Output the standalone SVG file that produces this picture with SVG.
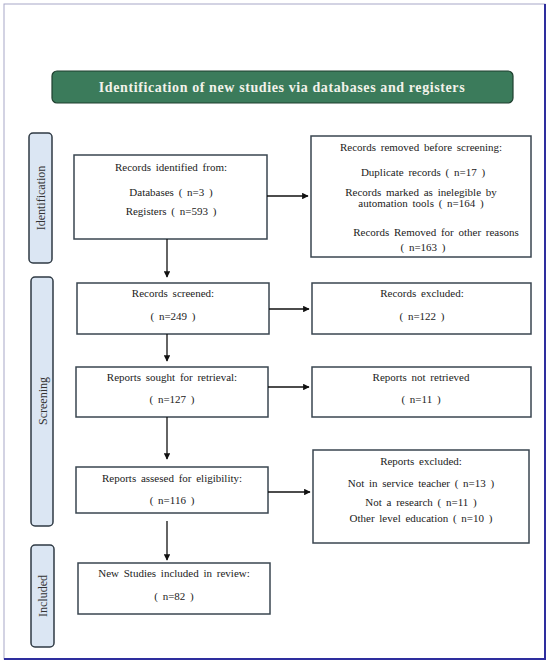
<svg xmlns="http://www.w3.org/2000/svg" width="550" height="663" viewBox="0 0 550 663">
<defs>
<style>
.frame{fill:#ffffff;stroke:#a8a8c8;stroke-width:1}
.edge{stroke:#2e2e9e;stroke-width:2;fill:none}
.banner{fill:#3b7b5b;stroke:#1f3f2f;stroke-width:1.2}
.btitle{font-family:"Liberation Serif","DejaVu Serif",serif;font-weight:bold;font-size:14px;fill:#f2f2ea;text-anchor:middle;letter-spacing:0.6px}
.side{fill:#dbe6f3;stroke:#2f3a44;stroke-width:1.5}
.stext{font-family:"Liberation Serif","DejaVu Serif",serif;font-size:12px;fill:#333;text-anchor:middle}
.box{fill:#ffffff;stroke:#3a4650;stroke-width:1.5}
.t{font-family:"Liberation Serif","DejaVu Serif",serif;font-size:11px;fill:#222;text-anchor:middle;word-spacing:2px}
.conn{stroke:#111;stroke-width:1.3;fill:none;marker-end:url(#ah)}
</style>
<marker id="ah" viewBox="0 0 10 10" refX="9" refY="5" markerWidth="5" markerHeight="5" orient="auto">
<path d="M0,0 L10,5 L0,10 z" fill="#111"/>
</marker>
</defs>
<rect class="frame" x="4" y="4" width="541" height="655"/>
<path class="edge" d="M545,4 L545,659 L4,659"/>
<g id="title">
<rect class="banner" x="52" y="71" width="461" height="32" rx="5"/>
<text class="btitle" x="282" y="91.5">Identification of new studies via databases and registers</text>
</g>
<g id="phase-identification">
<rect class="side" x="29" y="133" width="23" height="130" rx="4"/>
<text class="stext" transform="translate(44.5,198) rotate(-90)">Identification</text>
</g>
<g id="phase-screening">
<rect class="side" x="31" y="277" width="22" height="249" rx="4"/>
<text class="stext" transform="translate(46.5,401) rotate(-90)">Screening</text>
</g>
<g id="phase-included">
<rect class="side" x="31" y="545" width="23" height="102" rx="4"/>
<text class="stext" transform="translate(47,596) rotate(-90)">Included</text>
</g>
<g id="identified">
<rect class="box" x="74" y="155" width="193" height="84"/>
<text class="t" x="171" y="171">Records identified from:</text>
<text class="t" x="171" y="196">Databases ( n=3 )</text>
<text class="t" x="171" y="215">Registers ( n=593 )</text>
</g>
<g id="removed">
<rect class="box" x="311" y="136" width="220" height="121"/>
<text class="t" x="421" y="151">Records removed before screening:</text>
<text class="t" x="423" y="176">Duplicate records ( n=17 )</text>
<text class="t" x="421" y="196">Records marked as inelegible by</text>
<text class="t" x="421" y="207">automation tools ( n=164 )</text>
<text class="t" x="436" y="236">Records Removed for other reasons</text>
<text class="t" x="423" y="251">( n=163 )</text>
</g>
<g id="screened">
<rect class="box" x="77" y="283" width="192" height="51"/>
<text class="t" x="173" y="297">Records screened:</text>
<text class="t" x="173" y="320">( n=249 )</text>
</g>
<g id="excluded">
<rect class="box" x="312" y="283" width="219" height="51"/>
<text class="t" x="422" y="297">Records excluded:</text>
<text class="t" x="422" y="320">( n=122 )</text>
</g>
<g id="sought">
<rect class="box" x="76" y="367" width="192" height="50"/>
<text class="t" x="172" y="381">Reports sought for retrieval:</text>
<text class="t" x="172" y="403">( n=127 )</text>
</g>
<g id="not-retrieved">
<rect class="box" x="312" y="367" width="219" height="50"/>
<text class="t" x="421" y="381">Reports not retrieved</text>
<text class="t" x="421" y="403">( n=11 )</text>
</g>
<g id="assessed">
<rect class="box" x="76" y="467" width="192" height="46"/>
<text class="t" x="172" y="482">Reports assesed for eligibility:</text>
<text class="t" x="172" y="504">( n=116 )</text>
</g>
<g id="reports-excluded">
<rect class="box" x="313" y="450" width="216" height="93"/>
<text class="t" x="421" y="465">Reports excluded:</text>
<text class="t" x="421" y="487">Not in service teacher ( n=13 )</text>
<text class="t" x="421" y="506">Not a research ( n=11 )</text>
<text class="t" x="421" y="522">Other level education ( n=10 )</text>
</g>
<g id="included">
<rect class="box" x="78" y="563" width="192" height="51"/>
<text class="t" x="174" y="577">New Studies included in review:</text>
<text class="t" x="174" y="600">( n=82 )</text>
</g>
<g id="connectors">
<line class="conn" x1="167" y1="239" x2="167" y2="277"/>
<line class="conn" x1="267" y1="196" x2="308" y2="196"/>
<line class="conn" x1="167" y1="334" x2="167" y2="361"/>
<line class="conn" x1="269" y1="309" x2="309" y2="309"/>
<line class="conn" x1="167" y1="417" x2="167" y2="459"/>
<line class="conn" x1="268" y1="387" x2="309" y2="387"/>
<line class="conn" x1="167" y1="521" x2="167" y2="560"/>
<line class="conn" x1="268" y1="492" x2="310" y2="492"/>
</g>
</svg>
